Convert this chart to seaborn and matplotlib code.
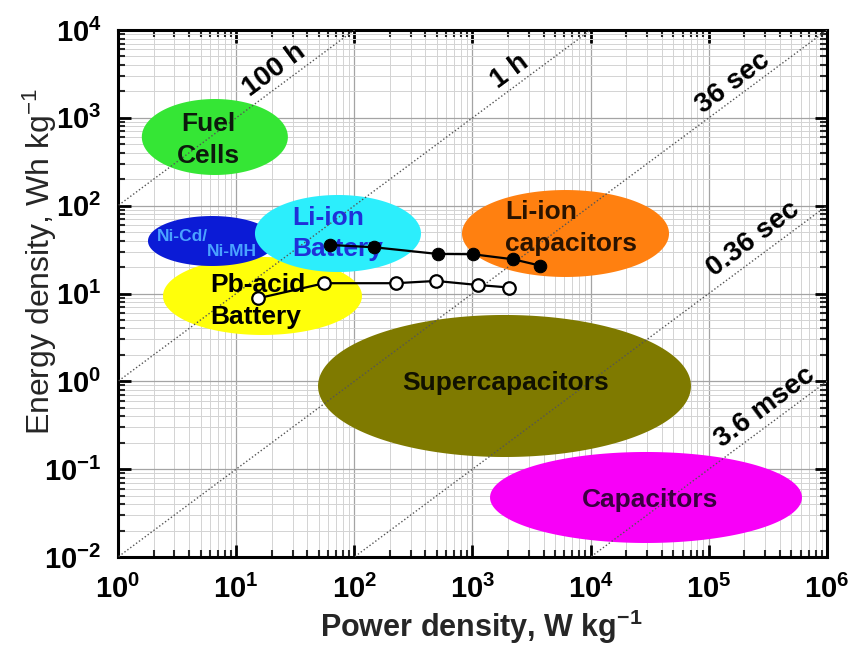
import numpy as np
import pandas as pd
import matplotlib
matplotlib.use("Agg")
import matplotlib.pyplot as plt
from matplotlib.ticker import LogLocator, FixedLocator, FuncFormatter, NullFormatter
import seaborn as sns

# ---- measured performance of two cell types ----
li_ion_power = [62, 147, 508, 1004, 2214, 3725]        # W/kg
li_ion_energy = [35.7, 33.6, 28.2, 28.0, 24.5, 20.8]    # Wh/kg
pb_acid_power = [15.2, 55.7, 225, 491, 1107, 2047]      # W/kg
pb_acid_energy = [8.8, 13.1, 13.1, 13.9, 12.5, 11.7]    # Wh/kg

# ---- technology regions: centre (W/kg, Wh/kg), extent in decades ----
region_names = ["Pb-acid", "Ni-Cd", "Li-ion battery", "Fuel cells",
                "Li-ion capacitors", "Supercapacitors", "Capacitors"]
region_power = [16.7, 6.24, 72.7, 6.6, 6124, 1866, 29400]
region_energy = [9.37, 39.6, 48.2, 605, 48.2, 0.885, 0.0476]
region_width_dec = [1.684, 1.083, 1.405, 1.236, 1.752, 3.156, 2.640]
region_height_dec = [0.888, 0.569, 0.877, 0.865, 0.990, 1.617, 1.036]
region_colors = ["#ffff0a", "#0b1bd6", "#2ceefc", "#35e635",
                 "#ff8010", "#7f7a00", "#f800f8"]

# ---- constant discharge-time lines (E = t * P, t in hours) ----
time_hours = [100, 1, 0.01, 1e-4, 1e-6]
time_labels = ["100 h", "1 h", "36 sec", "0.36 sec", "3.6 msec"]
time_label_pos = [(20.9, 3510), (2076, 3410), (160000, 2495),
                  (236500, 41.8), (298600, 0.51)]

# ---- axis decades ----
x_decades = [0, 1, 2, 3, 4, 5, 6]
y_decades = [-2, -1, 0, 1, 2, 3, 4]

sns.set_theme(style="white")
plt.rcParams["font.family"] = ["Liberation Sans", "DejaVu Sans"]
plt.rcParams["mathtext.fontset"] = "custom"
plt.rcParams["mathtext.rm"] = "Liberation Sans"
plt.rcParams["mathtext.bf"] = "Liberation Sans:bold"
plt.rcParams["mathtext.it"] = "Liberation Sans:italic"
plt.rcParams["mathtext.default"] = "regular"

fig = plt.figure(figsize=(8.53, 6.46), dpi=100)
ax = fig.add_axes([118 / 853, 89 / 646, 709 / 853, 527 / 646])
ax.set_xscale("log")
ax.set_yscale("log")
ax.set_xlim(10.0 ** x_decades[0], 10.0 ** x_decades[-1])
ax.set_ylim(10.0 ** y_decades[0], 10.0 ** y_decades[-1])

# ticks and grid
ax.set_axisbelow(True)
ax.xaxis.set_major_locator(FixedLocator([10.0 ** d for d in x_decades]))
ax.yaxis.set_major_locator(FixedLocator([10.0 ** d for d in y_decades]))
ax.xaxis.set_minor_locator(LogLocator(base=10, subs=np.arange(2, 10), numticks=100))
ax.yaxis.set_minor_locator(LogLocator(base=10, subs=np.arange(2, 10), numticks=100))
ax.grid(which="major", color="#a4a4a4", lw=0.9)
ax.grid(which="minor", color="#d3d3d3", lw=0.7)

# technology regions, drawn as ellipses in log-log space
t = np.linspace(0, 2 * np.pi, 400)
for cx, cy, w, h, col in zip(region_power, region_energy, region_width_dec,
                             region_height_dec, region_colors):
    lx = np.log10(cx) + 0.5 * w * np.cos(t)
    ly = np.log10(cy) + 0.5 * h * np.sin(t)
    ax.fill(10 ** lx, 10 ** ly, color=col, lw=0, zorder=2)

# discharge-time lines
p_range = np.array([1e-1, 1e7])
for th in time_hours:
    ax.plot(p_range, th * p_range, ls=(0, (1, 1.6)), color="#555555", lw=1.0, zorder=3)

# measured cells
df_li = pd.DataFrame({"P": li_ion_power, "E": li_ion_energy})
df_pb = pd.DataFrame({"P": pb_acid_power, "E": pb_acid_energy})
sns.lineplot(data=df_li, x="P", y="E", ax=ax, color="black", lw=1.6,
             marker="o", markersize=9, markerfacecolor="black",
             markeredgecolor="black", zorder=7, sort=False)
sns.lineplot(data=df_pb, x="P", y="E", ax=ax, color="black", lw=1.6,
             marker="o", markersize=9, markerfacecolor="white",
             markeredgecolor="black", markeredgewidth=1.6, zorder=7, sort=False)

# region labels
lab = dict(fontweight="bold", fontsize=19, zorder=6)
ax.text(5.78, 560, "Fuel\nCells", ha="center", va="center", ma="center",
        color="#0d1a0d", linespacing=1.4, **lab)
ax.text(2.14, 44.6, "Ni-Cd/", ha="left", va="center", color="#4aa2ff",
        fontweight="bold", fontsize=12.5, zorder=6)
ax.text(5.67, 30.1, "Ni-MH", ha="left", va="center", color="#4aa2ff",
        fontweight="bold", fontsize=12.5, zorder=6)
ax.text(29.7, 48.2, "Li-ion\nBattery", ha="left", va="center", ma="left",
        color="#1f30d8", linespacing=1.4, **lab)
ax.text(6.0, 8.2, "Pb-acid\nBattery", ha="left", va="center", ma="left",
        color="black", linespacing=1.45, **lab)
ax.text(1884, 55.7, "Li-ion\ncapacitors", ha="left", va="center", ma="left",
        color="#2a1300", linespacing=1.4, **lab)
ax.text(1920, 0.957, "Supercapacitors", ha="center", va="center",
        color="#111100", **lab)
ax.text(31770, 0.0446, "Capacitors", ha="center", va="center",
        color="#3a0040", **lab)

# discharge-time labels parallel to the lines
fig.canvas.draw()
p0 = ax.transData.transform((1, 1))
p1 = ax.transData.transform((10, 10))
angle = np.degrees(np.arctan2(p1[1] - p0[1], p1[0] - p0[0]))
for (x, y), s in zip(time_label_pos, time_labels):
    ax.text(x, y, s, rotation=angle, rotation_mode="anchor", ha="center",
            va="center", fontweight="bold", fontsize=20, color="black", zorder=6)

# axes frame and ticks
for sp in ax.spines.values():
    sp.set_linewidth(2.2)
    sp.set_color("black")
ax.tick_params(which="major", direction="in", length=9, width=2,
               top=True, right=True, bottom=True, left=True, colors="black")
ax.tick_params(axis="x", which="major", pad=13)
ax.tick_params(axis="y", which="major", pad=12)
ax.tick_params(which="minor", direction="in", length=5, width=1.5,
               top=True, right=True, bottom=True, left=True)

fmt = FuncFormatter(lambda v, pos: r"$\mathbf{10^{%d}}$" % int(round(np.log10(v))))
ax.xaxis.set_major_formatter(fmt)
ax.yaxis.set_major_formatter(fmt)
ax.xaxis.set_minor_formatter(NullFormatter())
ax.yaxis.set_minor_formatter(NullFormatter())
for lbl in ax.get_xticklabels() + ax.get_yticklabels():
    lbl.set_fontsize(21)

ax.set_xlabel("Power density, W kg$^{-1}$", fontsize=22, fontweight="bold")
ax.set_ylabel("Energy density, Wh kg$^{-1}$", fontsize=23, fontweight="normal")
ax.xaxis.set_label_coords(0.513, -0.097)
ax.yaxis.set_label_coords(-0.083, 0.56)

fig.savefig("out.png", dpi=100)
